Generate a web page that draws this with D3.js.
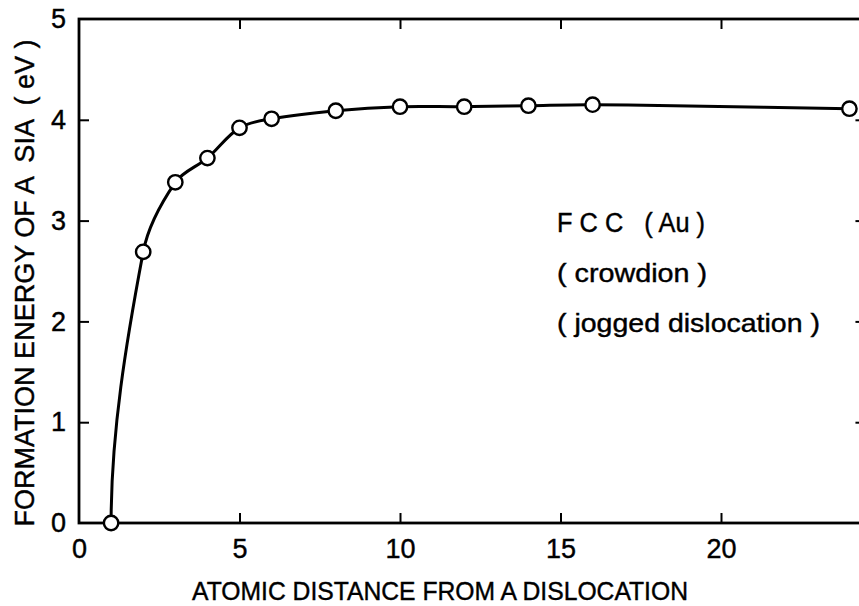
<!DOCTYPE html>
<html>
<head>
<meta charset="utf-8">
<script src="https://cdn.jsdelivr.net/npm/d3@7"></script>
<style>
  html, body { margin: 0; padding: 0; background: #fff; }
  svg { display: block; }
  text { font-family: "Liberation Sans", Arial, Helvetica, sans-serif; fill: #000; stroke: #000; stroke-width: 0.4px; }
</style>
</head>
<body>
<svg id="chart" width="859" height="606"></svg>
<script>
// ---- data ----
const distances = [1, 2, 3, 4, 5, 6, 8, 10, 12, 14, 16, 24];
const energies  = [0, 2.69, 3.38, 3.62, 3.92, 4.01, 4.09, 4.13, 4.13, 4.14, 4.15, 4.11];
const xTickValues = [0, 5, 10, 15, 20];
const yTickValues = [0, 1, 2, 3, 4, 5];
const xTitle = "ATOMIC DISTANCE FROM A DISLOCATION";
const yTitle = "FORMATION ENERGY OF A  SIA  ( eV )";
const noteLines = ["F C C   ( Au )", "( crowdion )", "( jogged dislocation )"];

// ---- layout ----
const svg = d3.select("#chart");
svg.append("rect").attr("width", 859).attr("height", 606).attr("fill", "#fff");

const x = d3.scaleLinear().domain([0, 24.5]).range([79, 79 + 24.5 * 32.1]);
const y = d3.scaleLinear().domain([0, 5]).range([523, 19]);

const g = svg.append("g");

// frame
g.append("rect")
  .attr("x", x(0)).attr("y", y(5))
  .attr("width", x(24.5) - x(0)).attr("height", y(0) - y(5))
  .attr("fill", "none").attr("stroke", "#000").attr("stroke-width", 2.8);

const tickLen = 10;
// bottom ticks (inward) + labels
const bottomAxis = d3.axisBottom(x).tickValues(xTickValues).tickSize(-tickLen).tickPadding(tickLen + 6).tickFormat(d3.format("d"));
const ga = g.append("g").attr("transform", `translate(0,${y(0)})`).call(bottomAxis);
ga.select(".domain").remove();
ga.selectAll(".tick line").attr("stroke", "#000").attr("stroke-width", 2)
  .attr("display", d => d === 0 ? "none" : null);
ga.selectAll(".tick text").attr("font-size", 27).attr("font-family", "Liberation Sans, Arial, sans-serif").attr("fill", "#000");

// top ticks
const topAxis = d3.axisTop(x).tickValues(xTickValues.filter(d => d > 0)).tickSize(-tickLen).tickFormat("");
const gt = g.append("g").attr("transform", `translate(0,${y(5)})`).call(topAxis);
gt.select(".domain").remove();
gt.selectAll(".tick line").attr("stroke", "#000").attr("stroke-width", 2);

// left ticks + labels
const leftAxis = d3.axisLeft(y).tickValues(yTickValues).tickSize(-tickLen).tickPadding(tickLen + 3).tickFormat(d3.format("d"));
const gl = g.append("g").attr("transform", `translate(${x(0)},0)`).call(leftAxis);
gl.select(".domain").remove();
gl.selectAll(".tick line").attr("stroke", "#000").attr("stroke-width", 2)
  .attr("display", d => (d === 0 || d === 5) ? "none" : null);
gl.selectAll(".tick text").attr("font-size", 27).attr("font-family", "Liberation Sans, Arial, sans-serif").attr("fill", "#000");

// right ticks
const rightAxis = d3.axisRight(y).tickValues(yTickValues.filter(d => d > 0 && d < 5)).tickSize(-tickLen).tickFormat("");
const gr = g.append("g").attr("transform", `translate(${x(24.5)},0)`).call(rightAxis);
gr.select(".domain").remove();
gr.selectAll(".tick line").attr("stroke", "#000").attr("stroke-width", 2);

// ---- curve (Hermite spline through the points, pixel space) ----
const pts = distances.map((d, i) => [x(d), y(energies[i])]);
const n = pts.length;
const norm = v => { const l = Math.hypot(v[0], v[1]) || 1; return [v[0] / l, v[1] / l]; };
const dirs = pts.map((p, i) => {
  if (i === 0) return [0, -1];
  if (i === n - 1) return norm([p[0] - pts[i - 1][0], p[1] - pts[i - 1][1]]);
  return norm([pts[i + 1][0] - pts[i - 1][0], pts[i + 1][1] - pts[i - 1][1]]);
});
const path = d3.path();
path.moveTo(pts[0][0], pts[0][1]);
for (let i = 0; i < n - 1; i++) {
  const p0 = pts[i], p1 = pts[i + 1];
  const L = Math.hypot(p1[0] - p0[0], p1[1] - p0[1]) / 3;
  path.bezierCurveTo(
    p0[0] + dirs[i][0] * L, p0[1] + dirs[i][1] * L,
    p1[0] - dirs[i + 1][0] * L, p1[1] - dirs[i + 1][1] * L,
    p1[0], p1[1]);
}
g.append("path").attr("d", path.toString())
  .attr("fill", "none").attr("stroke", "#000").attr("stroke-width", 3);

// points
g.selectAll("circle.pt").data(distances.map((d, i) => ({ d, e: energies[i] })))
  .join("circle").attr("class", "pt")
  .attr("cx", p => x(p.d)).attr("cy", p => y(p.e)).attr("r", 7.2)
  .attr("fill", "#fff").attr("stroke", "#000").attr("stroke-width", 2.4);

// ---- titles ----
svg.append("text")
  .attr("x", 440).attr("y", 600)
  .attr("text-anchor", "middle").attr("font-size", 25)
  .attr("textLength", 496).attr("lengthAdjust", "spacingAndGlyphs")
  .text(xTitle);

svg.append("text")
  .attr("transform", "translate(34,283) rotate(-90)")
  .attr("text-anchor", "middle").attr("font-size", 27)
  .attr("textLength", 487).attr("lengthAdjust", "spacingAndGlyphs")
  .style("white-space", "pre")
  .text(yTitle);

// ---- annotation ----
const noteY = [232, 282, 332];
const noteLen = [148, 150, 263];
noteLines.forEach((t, i) => {
  svg.append("text")
    .attr("x", 557).attr("y", noteY[i])
    .attr("font-size", i === 0 ? 27 : 25)
    .attr("textLength", noteLen[i]).attr("lengthAdjust", "spacingAndGlyphs")
    .style("white-space", "pre")
    .text(t);
});
</script>
</body>
</html>
